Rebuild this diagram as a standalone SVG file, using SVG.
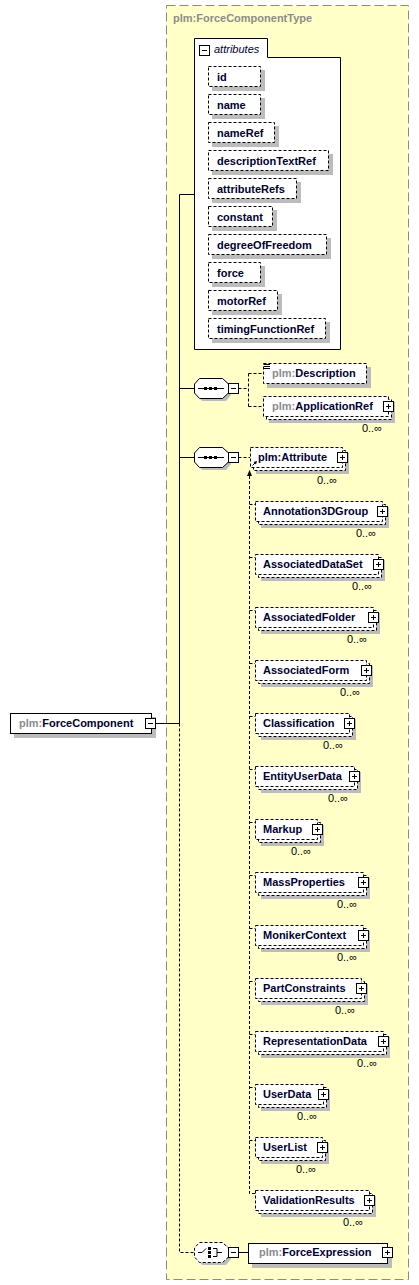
<svg xmlns="http://www.w3.org/2000/svg" width="419" height="1285" viewBox="0 0 419 1285">
<style>
text{font-family:"Liberation Sans",Arial,sans-serif;font-size:11px}
.n{font-weight:bold;fill:#000033}
.p{font-weight:bold;fill:#8c8c8c}
.m{fill:#000;font-size:11px}
.sh{fill:#bcbcbc}
.db{fill:#fff;stroke:#000;stroke-dasharray:3,2}
.sb{fill:#fff;stroke:#000}
.ln{fill:none;stroke:#000}
.dl{fill:none;stroke:#000;stroke-dasharray:3,2}
</style>
<defs>
<g id="plus"><rect x="-5" y="-5" width="10" height="10" fill="#fff" stroke="#000"/><path d="M-2.5,0H2.5M0,-2.5V2.5" stroke="#000"/></g>
<g id="minus"><rect x="-5" y="-5" width="10" height="10" fill="#fff" stroke="#000"/><path d="M-2.5,0H2.5" stroke="#000"/></g>
</defs>
<g id="type">
<rect x="166.5" y="5.5" width="242" height="1274" fill="#ffffc8" stroke="#8a8a8a" stroke-dasharray="9,4"/>
<text x="173" y="22" fill="#8c8c8c" font-weight="bold">plm:ForceComponentType</text>
</g>
<g id="connectors">
<path class="ln" d="M156,723.5H179.5M179.5,194.5V723.5M179.5,194.5H194M179.5,388.5H194M179.5,457.5H194M238.5,1252.5H248"/>
<path class="dl" d="M179.5,723.5V1252.5H194M238.5,388.5H248.5M248.5,373.5V406.5M248.5,373.5H263M248.5,406.5H263M238.5,457.5H250"/>
<path class="dl" d="M249.5,476V1193.5H255M249.5,504.5H255M249.5,557.5H255M249.5,610.5H255M249.5,663.5H255M249.5,716.5H255M249.5,769.5H255M249.5,822.5H255M249.5,875.5H255M249.5,928.5H255M249.5,981.5H255M249.5,1034.5H255M249.5,1087.5H255M249.5,1140.5H255"/>
<polygon points="249.5,470 247,476 252,476" fill="#000"/>
</g>
<g id="ForceComponent">
<rect class="sh" x="14" y="717" width="142" height="21"/>
<rect class="sb" x="10.5" y="713.5" width="141" height="20"/>
<text x="19" y="727"><tspan class="p">plm:</tspan><tspan class="n">ForceComponent</tspan></text>
<use href="#minus" x="150.5" y="723.5"/>
</g>
<g id="attributes">
<path d="M194.5,349.5V38.5H267.5V57.5H340.5V349.5Z" fill="#fff" stroke="#000"/>
<use href="#minus" x="204.5" y="50.5"/>
<text x="214" y="53" font-style="italic" fill="#000033">attributes</text>
<g id="a-id"><rect class="sh" x="212" y="70" width="53" height="21"/><rect class="db" x="208.5" y="66.5" width="52" height="20"/><text class="n" x="217" y="81">id</text></g>
<g id="a-name"><rect class="sh" x="212" y="98" width="53" height="21"/><rect class="db" x="208.5" y="94.5" width="52" height="20"/><text class="n" x="217" y="109">name</text></g>
<g id="a-nameRef"><rect class="sh" x="212" y="126" width="67" height="21"/><rect class="db" x="208.5" y="122.5" width="66" height="20"/><text class="n" x="217" y="137">nameRef</text></g>
<g id="a-descriptionTextRef"><rect class="sh" x="212" y="154" width="121" height="21"/><rect class="db" x="208.5" y="150.5" width="120" height="20"/><text class="n" x="217" y="165">descriptionTextRef</text></g>
<g id="a-attributeRefs"><rect class="sh" x="212" y="182" width="89" height="21"/><rect class="db" x="208.5" y="178.5" width="88" height="20"/><text class="n" x="217" y="193">attributeRefs</text></g>
<g id="a-constant"><rect class="sh" x="212" y="210" width="65" height="21"/><rect class="db" x="208.5" y="206.5" width="64" height="20"/><text class="n" x="217" y="221">constant</text></g>
<g id="a-degreeOfFreedom"><rect class="sh" x="212" y="238" width="119" height="21"/><rect class="db" x="208.5" y="234.5" width="118" height="20"/><text class="n" x="217" y="249">degreeOfFreedom</text></g>
<g id="a-force"><rect class="sh" x="212" y="266" width="53" height="21"/><rect class="db" x="208.5" y="262.5" width="52" height="20"/><text class="n" x="217" y="277">force</text></g>
<g id="a-motorRef"><rect class="sh" x="212" y="294" width="70" height="21"/><rect class="db" x="208.5" y="290.5" width="69" height="20"/><text class="n" x="217" y="305">motorRef</text></g>
<g id="a-timingFunctionRef"><rect class="sh" x="212" y="322" width="118" height="21"/><rect class="db" x="208.5" y="318.5" width="117" height="20"/><text class="n" x="217" y="333">timingFunctionRef</text></g>
</g>
<g id="seq1">
<polygon class="sh" points="202,381 226,381 231,386 231,395 226,401 202,401 197,395 197,386"/>
<polygon class="sb" points="199.5,378.5 222.5,378.5 228.5,384 228.5,393 222.5,398.5 199.5,398.5 194.5,393 194.5,384"/>
<path d="M198,388.5H224" stroke="#000"/><rect x="204" y="387" width="3" height="3"/><rect x="209" y="387" width="3" height="3"/><rect x="214" y="387" width="3" height="3"/>
<use href="#minus" x="233.5" y="388.5"/>
</g>
<g id="Description">
<rect class="sh" x="267" y="367" width="104" height="21"/>
<rect class="db" x="263.5" y="363.5" width="103" height="20"/>
<path d="M264,364.5H270M264,366.5H270M264,368.5H270" stroke="#000"/>
<text x="272" y="377"><tspan class="p">plm:</tspan><tspan class="n">Description</tspan></text>
</g>
<g id="ApplicationRef">
<rect class="sh" x="269" y="402" width="126" height="21"/>
<rect class="db" x="266.5" y="399.5" width="125" height="20"/>
<rect class="db" x="263.5" y="396.5" width="125" height="20"/>
<text x="272" y="410"><tspan class="p">plm:</tspan><tspan class="n">ApplicationRef</tspan></text>
<use href="#plus" x="388.5" y="406.5"/>
<text class="m" x="382" y="432" text-anchor="end">0..∞</text>
</g>
<g id="seq2">
<polygon class="sh" points="202,450 226,450 231,455 231,464 226,470 202,470 197,464 197,455"/>
<polygon class="sb" points="199.5,447.5 222.5,447.5 228.5,453 228.5,462 222.5,467.5 199.5,467.5 194.5,462 194.5,453"/>
<path d="M198,457.5H224" stroke="#000"/><rect x="204" y="456" width="3" height="3"/><rect x="209" y="456" width="3" height="3"/><rect x="214" y="456" width="3" height="3"/>
<use href="#minus" x="233.5" y="457.5"/>
</g>
<g id="Attribute">
<rect class="sh" x="256" y="453" width="93" height="21"/>
<rect class="db" x="253.5" y="450.5" width="92" height="20"/>
<rect class="db" x="250.5" y="447.5" width="92" height="20"/>
<text class="n" x="258" y="461">plm:Attribute</text>
<path d="M252.5,465.5L256,462" stroke="#000"/><polygon points="257,461 253.5,462 256,464.5" fill="#000"/>
<use href="#plus" x="342.5" y="457.5"/>
<text class="m" x="337" y="484" text-anchor="end">0..∞</text>
</g>
<g id="Annotation3DGroup"><rect class="sh" x="261" y="507" width="128" height="21"/><rect class="db" x="258.5" y="504.5" width="127" height="20"/><rect class="db" x="255.5" y="501.5" width="127" height="20"/><text class="n" x="263" y="515">Annotation3DGroup</text><use href="#plus" x="382.5" y="511.5"/><text class="m" x="376" y="537" text-anchor="end">0..∞</text></g>
<g id="AssociatedDataSet"><rect class="sh" x="261" y="560" width="124" height="21"/><rect class="db" x="258.5" y="557.5" width="123" height="20"/><rect class="db" x="255.5" y="554.5" width="123" height="20"/><text class="n" x="263" y="568">AssociatedDataSet</text><use href="#plus" x="378.5" y="564.5"/><text class="m" x="372" y="590" text-anchor="end">0..∞</text></g>
<g id="AssociatedFolder"><rect class="sh" x="261" y="613" width="119" height="21"/><rect class="db" x="258.5" y="610.5" width="118" height="20"/><rect class="db" x="255.5" y="607.5" width="118" height="20"/><text class="n" x="263" y="621">AssociatedFolder</text><use href="#plus" x="373.5" y="617.5"/><text class="m" x="367" y="643" text-anchor="end">0..∞</text></g>
<g id="AssociatedForm"><rect class="sh" x="261" y="666" width="112" height="21"/><rect class="db" x="258.5" y="663.5" width="111" height="20"/><rect class="db" x="255.5" y="660.5" width="111" height="20"/><text class="n" x="263" y="674">AssociatedForm</text><use href="#plus" x="366.5" y="670.5"/><text class="m" x="360" y="696" text-anchor="end">0..∞</text></g>
<g id="Classification"><rect class="sh" x="261" y="719" width="95" height="21"/><rect class="db" x="258.5" y="716.5" width="94" height="20"/><rect class="db" x="255.5" y="713.5" width="94" height="20"/><text class="n" x="263" y="727">Classification</text><use href="#plus" x="349.5" y="723.5"/><text class="m" x="343" y="749" text-anchor="end">0..∞</text></g>
<g id="EntityUserData"><rect class="sh" x="261" y="772" width="100" height="21"/><rect class="db" x="258.5" y="769.5" width="99" height="20"/><rect class="db" x="255.5" y="766.5" width="99" height="20"/><text class="n" x="263" y="780">EntityUserData</text><use href="#plus" x="354.5" y="776.5"/><text class="m" x="348" y="802" text-anchor="end">0..∞</text></g>
<g id="Markup"><rect class="sh" x="261" y="825" width="63" height="21"/><rect class="db" x="258.5" y="822.5" width="62" height="20"/><rect class="db" x="255.5" y="819.5" width="62" height="20"/><text class="n" x="263" y="833">Markup</text><use href="#plus" x="317.5" y="829.5"/><text class="m" x="311" y="855" text-anchor="end">0..∞</text></g>
<g id="MassProperties"><rect class="sh" x="261" y="878" width="109" height="21"/><rect class="db" x="258.5" y="875.5" width="108" height="20"/><rect class="db" x="255.5" y="872.5" width="108" height="20"/><text class="n" x="263" y="886">MassProperties</text><use href="#plus" x="363.5" y="882.5"/><text class="m" x="357" y="908" text-anchor="end">0..∞</text></g>
<g id="MonikerContext"><rect class="sh" x="261" y="931" width="109" height="21"/><rect class="db" x="258.5" y="928.5" width="108" height="20"/><rect class="db" x="255.5" y="925.5" width="108" height="20"/><text class="n" x="263" y="939">MonikerContext</text><use href="#plus" x="363.5" y="935.5"/><text class="m" x="357" y="961" text-anchor="end">0..∞</text></g>
<g id="PartConstraints"><rect class="sh" x="261" y="984" width="107" height="21"/><rect class="db" x="258.5" y="981.5" width="106" height="20"/><rect class="db" x="255.5" y="978.5" width="106" height="20"/><text class="n" x="263" y="992">PartConstraints</text><use href="#plus" x="361.5" y="988.5"/><text class="m" x="355" y="1014" text-anchor="end">0..∞</text></g>
<g id="RepresentationData"><rect class="sh" x="261" y="1037" width="129" height="21"/><rect class="db" x="258.5" y="1034.5" width="128" height="20"/><rect class="db" x="255.5" y="1031.5" width="128" height="20"/><text class="n" x="263" y="1045">RepresentationData</text><use href="#plus" x="383.5" y="1041.5"/><text class="m" x="377" y="1067" text-anchor="end">0..∞</text></g>
<g id="UserData"><rect class="sh" x="261" y="1090" width="69" height="21"/><rect class="db" x="258.5" y="1087.5" width="68" height="20"/><rect class="db" x="255.5" y="1084.5" width="68" height="20"/><text class="n" x="263" y="1098">UserData</text><use href="#plus" x="323.5" y="1094.5"/><text class="m" x="317" y="1120" text-anchor="end">0..∞</text></g>
<g id="UserList"><rect class="sh" x="261" y="1143" width="68" height="21"/><rect class="db" x="258.5" y="1140.5" width="67" height="20"/><rect class="db" x="255.5" y="1137.5" width="67" height="20"/><text class="n" x="263" y="1151">UserList</text><use href="#plus" x="322.5" y="1147.5"/><text class="m" x="316" y="1173" text-anchor="end">0..∞</text></g>
<g id="ValidationResults"><rect class="sh" x="261" y="1196" width="115" height="21"/><rect class="db" x="258.5" y="1193.5" width="114" height="20"/><rect class="db" x="255.5" y="1190.5" width="114" height="20"/><text class="n" x="263" y="1204">ValidationResults</text><use href="#plus" x="369.5" y="1200.5"/><text class="m" x="363" y="1226" text-anchor="end">0..∞</text></g>
<g id="choice">
<polygon class="sh" points="202,1245 226,1245 231,1250 231,1259 226,1265 202,1265 197,1259 197,1250"/>
<polygon class="db" points="199.5,1242.5 222.5,1242.5 228.5,1248 228.5,1257 222.5,1262.5 199.5,1262.5 194.5,1257 194.5,1248"/>
<path d="M198,1252.5H202L206,1248.5M213,1248.5H217V1256.5H213M217,1252.5H222" fill="none" stroke="#000"/>
<rect x="208" y="1247" width="3" height="3"/><rect x="208" y="1251" width="3" height="3"/><rect x="208" y="1255" width="3" height="3"/>
<use href="#minus" x="233.5" y="1252.5"/>
</g>
<g id="ForceExpression">
<rect class="sh" x="252" y="1247" width="140" height="21"/>
<rect class="sb" x="248.5" y="1243.5" width="139" height="20"/>
<text x="259" y="1256"><tspan class="p">plm:</tspan><tspan class="n">ForceExpression</tspan></text>
<use href="#plus" x="387.5" y="1252.5"/>
</g>
</svg>
